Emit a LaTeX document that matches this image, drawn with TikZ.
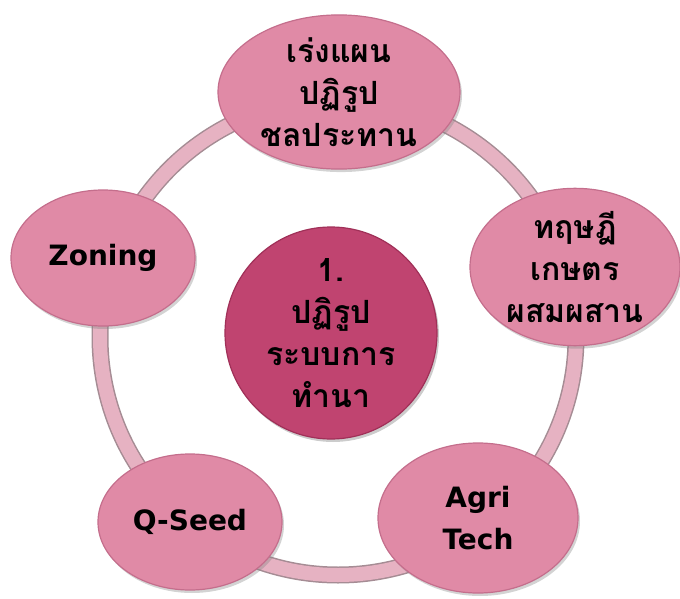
\documentclass[tikz,border=0pt]{standalone}
\usepackage{fontspec}
\setmainfont{DejaVu Sans}
\newfontfamily\thaifont[Script=Thai]{Loma}
\usetikzlibrary{shapes.geometric,shadows}
\definecolor{petal}{RGB}{224,138,166}
\definecolor{petaledge}{RGB}{196,110,140}
\definecolor{hub}{RGB}{192,68,112}
\definecolor{hubedge}{RGB}{160,48,88}
\definecolor{band}{RGB}{230,178,194}
\definecolor{bandedge}{RGB}{165,140,148}
\tikzset{
  petalnode/.style={ellipse, draw=petaledge, line width=1.2pt, fill=petal,
    inner sep=0pt, align=center, text=black,
    drop shadow={shadow xshift=2pt, shadow yshift=-3pt, opacity=0.35}},
  hubnode/.style={circle, draw=hubedge, line width=1.2pt, fill=hub,
    inner sep=0pt, align=center, text=black,
    drop shadow={shadow xshift=2pt, shadow yshift=-3pt, opacity=0.4}},
  thaitext/.style={font=\thaifont\bfseries\fontsize{32}{42}\selectfont},
  latintext/.style={font=\bfseries\fontsize{28}{42}\selectfont},
}

\begin{document}
\begin{tikzpicture}[x=1pt, y=1pt]
\useasboundingbox (0,0) rectangle (680,598);

% ring behind the petals
\draw [bandedge, line width=17pt] (338,261) circle (238);
\draw [band, line width=14pt] (338,261) circle (238);

\foreach \n/\x/\y/\w/\h/\s/\t in
  {plan/339/506/242/154/thaitext/{เร่งแผน\\ปฏิรูป\\ชลประทาน},
   mixed/575/331/210/154/thaitext/{ทฤษฎี\\เกษตร\\ผสมผสาน},
   agri/478/80/200/150/latintext/{Agri\\Tech},
   seed/190/76/184/136/latintext/{Q-Seed},
   zoning/103/340/184/136/latintext/{Zoning}}
  {
   \node [petalnode, \s,
          minimum width=\w, minimum height=\h,
          name=\n] at (\x,\y) {\t};
  }

% centre
\node [hubnode, thaitext, minimum size=212, name=farm] at (331,265)
  {1.\\ปฏิรูป\\ระบบการ\\ทำนา};

\end{tikzpicture}
\end{document}
